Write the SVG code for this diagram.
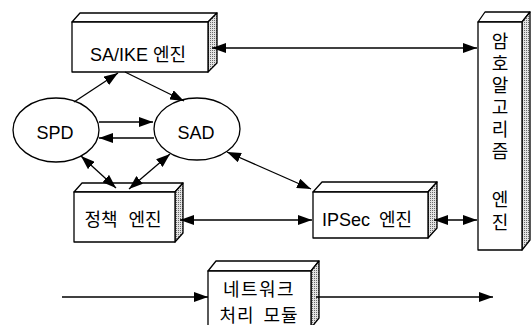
<svg xmlns="http://www.w3.org/2000/svg" width="532" height="325" viewBox="0 0 532 325">
  <defs>
    <pattern id="stipple" width="2" height="2" patternUnits="userSpaceOnUse">
      <rect width="2" height="2" fill="#e2e2e2"/>
      <rect width="1" height="1" fill="#6a6a6a"/>
    </pattern>
    <marker id="head" viewBox="0 0 14 10" refX="14" refY="5" markerWidth="14" markerHeight="10" markerUnits="userSpaceOnUse" orient="auto-start-reverse">
      <path d="M0,0 L14,5 L0,10 z" fill="#000"/>
    </marker>
  </defs>
  <style>
    .face { fill: #fff; stroke: #000; stroke-width: 1.3; stroke-linejoin: round; }
    .side { fill: url(#stipple); stroke: #000; stroke-width: 1.3; stroke-linejoin: round; }
    .ell { fill: #fff; stroke: #000; stroke-width: 1.3; }
    .lbl { font-family: "Liberation Sans", "Noto Sans CJK KR", sans-serif; font-size: 18px; fill: #000; text-anchor: middle; }
    .conn line { stroke: #000; stroke-width: 1.3; }
    .one { marker-end: url(#head); }
    .two { marker-start: url(#head); marker-end: url(#head); }
  </style>

  <rect width="532" height="325" fill="#fff"/>

  <!-- SA/IKE engine -->
  <g id="saike">
    <polygon class="face" points="72,22 80,13 217,13 208,22"/>
    <polygon class="side" points="208,22 217,13 217,63 208,72"/>
    <rect class="face" x="72" y="22" width="136" height="50"/>
    <text class="lbl" x="138" y="61">SA/IKE 엔진</text>
  </g>

  <!-- SPD -->
  <g id="spd">
    <ellipse class="ell" cx="56" cy="130" rx="43" ry="32"/>
    <text class="lbl" x="55" y="139">SPD</text>
  </g>

  <!-- SAD -->
  <g id="sad">
    <ellipse class="ell" cx="197" cy="129" rx="43" ry="31"/>
    <text class="lbl" x="196" y="139">SAD</text>
  </g>

  <!-- policy engine -->
  <g id="policy">
    <polygon class="face" points="74,192 82,183 183,183 175,192"/>
    <polygon class="side" points="175,192 183,183 183,233 175,242"/>
    <rect class="face" x="74" y="192" width="101" height="50"/>
    <text class="lbl" x="123" y="226" word-spacing="6">정책 엔진</text>
  </g>

  <!-- IPSec engine -->
  <g id="ipsec">
    <polygon class="face" points="313,192 322,182 437,182 428,192"/>
    <polygon class="side" points="428,192 437,182 437,228 428,238"/>
    <rect class="face" x="313" y="192" width="115" height="46"/>
    <text class="lbl" x="367" y="226" word-spacing="4">IPSec 엔진</text>
  </g>

  <!-- crypto algorithm engine -->
  <g id="crypto">
    <polygon class="face" points="478,22 485,12 530,12 522,22"/>
    <polygon class="side" points="522,22 530,12 530,240 522,250"/>
    <rect class="face" x="478" y="22" width="44" height="228"/>
    <text class="lbl" x="500" y="48">암</text>
    <text class="lbl" x="500" y="70">호</text>
    <text class="lbl" x="500" y="92">알</text>
    <text class="lbl" x="500" y="114">고</text>
    <text class="lbl" x="500" y="136">리</text>
    <text class="lbl" x="500" y="158">즘</text>
    <text class="lbl" x="500" y="206">엔</text>
    <text class="lbl" x="500" y="229">진</text>
  </g>

  <!-- network processing module -->
  <g id="network">
    <polygon class="face" points="208,271 216,261 319,261 311,271"/>
    <polygon class="side" points="311,271 319,261 319,318 311,328"/>
    <rect class="face" x="208" y="271" width="103" height="58"/>
    <text class="lbl" x="259" y="296" letter-spacing="1.5">네트워크</text>
    <text class="lbl" x="259" y="322" letter-spacing="1" word-spacing="3">처리 모듈</text>
  </g>

  <!-- connectors -->
  <g id="connectors" class="conn">
    <line class="two" x1="212" y1="48" x2="477" y2="48"/>
    <line class="one" x1="74" y1="102" x2="118" y2="73"/>
    <line class="one" x1="125" y1="72" x2="184" y2="101"/>
    <line class="one" x1="99" y1="122" x2="153" y2="122"/>
    <line class="one" x1="154" y1="138" x2="99" y2="138"/>
    <line class="two" x1="81" y1="156" x2="116" y2="188"/>
    <line class="two" x1="170" y1="154" x2="129" y2="189"/>
    <line class="two" x1="227" y1="152" x2="311" y2="189"/>
    <line class="two" x1="180" y1="220" x2="312" y2="220"/>
    <line class="two" x1="434" y1="220" x2="477" y2="220"/>
    <line class="one" x1="62" y1="297" x2="208" y2="297"/>
    <line class="one" x1="316" y1="297" x2="493" y2="297"/>
  </g>
</svg>
